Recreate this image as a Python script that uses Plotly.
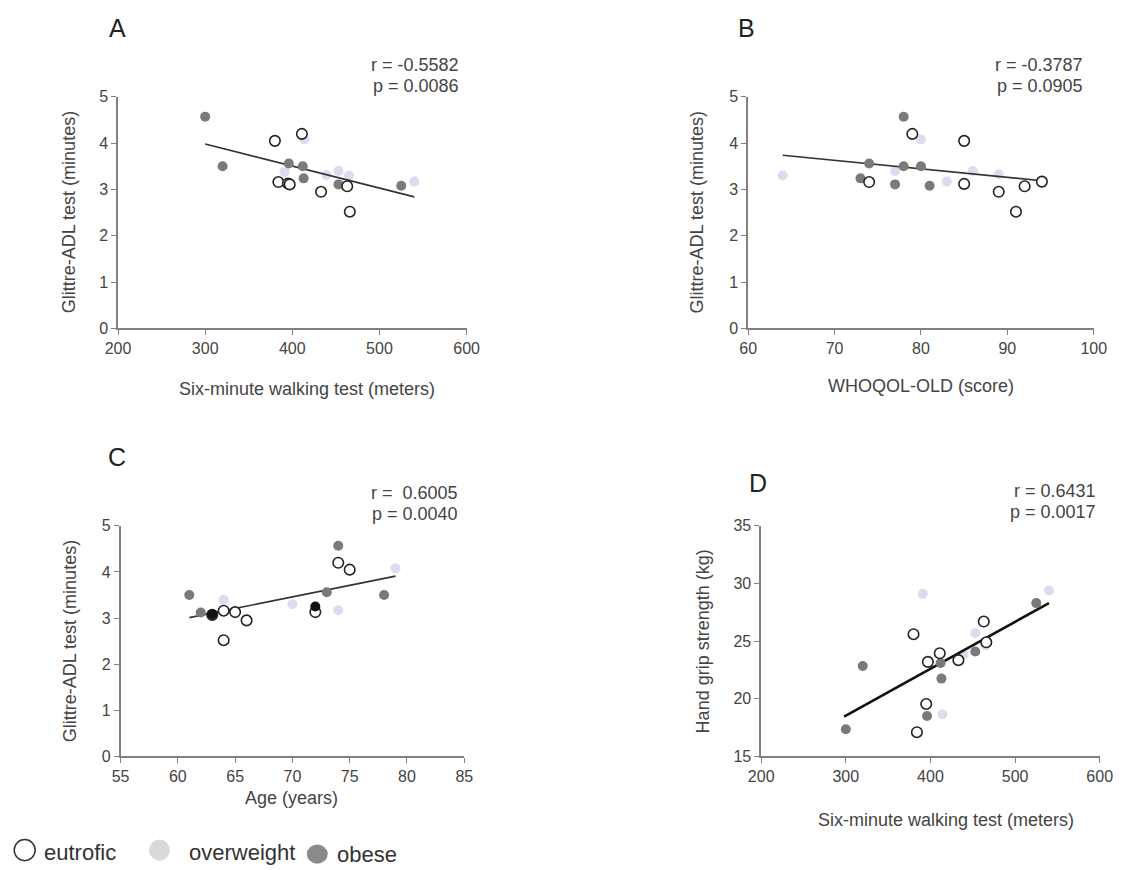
import plotly.graph_objects as go

# Layout positions below are given in reference-image pixels (1123 x 870).
# The page body keeps its default 8px margin; the returned photograph shows the
# page slightly reduced and offset, so positions are mapped through that.
BODY = 8
PHOTO_OFF_X = 11.0
PHOTO_OFF_Y = 8.5
PHOTO_SCALE = 0.978
W, H = 1123 - BODY, 870 - BODY

# ---------------- data ----------------
# Six-minute walking test (meters) - panels A and D
eut_6mwt = [380, 384, 395, 397, 411, 433, 463, 466]
ow_6mwt = [391, 414, 439, 453, 465, 540]
ob_6mwt = [300, 320, 396, 412, 413, 453, 525]

# Glittre-ADL test (minutes) vs 6MWT - panel A
eut_glittre_a = [4.05, 3.16, 3.13, 3.11, 4.20, 2.95, 3.07, 2.52]
ow_glittre_a = [3.38, 4.08, 3.31, 3.40, 3.30, 3.17]
ob_glittre_a = [4.57, 3.50, 3.56, 3.50, 3.24, 3.11, 3.08]

# Hand grip strength (kg) - panel D
eut_grip = [25.6, 17.1, 19.55, 23.2, 23.95, 23.35, 26.7, 24.9]
ow_grip = [29.1, 18.65, 23.8, 25.7, 24.65, 29.4]
ob_grip = [17.35, 22.85, 18.5, 23.1, 21.75, 24.1, 28.3]

# WHOQOL-OLD (score) - panel B
eut_whoqol = [74, 79, 85, 85, 89, 91, 92, 94]
eut_glittre_b = [3.16, 4.20, 4.05, 3.12, 2.95, 2.52, 3.07, 3.17]
ow_whoqol = [64, 77, 80, 83, 86, 89]
ow_glittre_b = [3.30, 3.40, 4.08, 3.17, 3.40, 3.33]
ob_whoqol = [73, 74, 77, 78, 78, 80, 81]
ob_glittre_b = [3.24, 3.56, 3.11, 4.57, 3.50, 3.50, 3.08]

# Age (years) - panel C
eut_age = [63, 64, 64, 65, 66, 72, 74, 75]
eut_glittre_c = [3.07, 3.16, 2.52, 3.13, 2.95, 3.13, 4.20, 4.05]
ow_age = [64, 70, 74, 79]
ow_glittre_c = [3.40, 3.30, 3.17, 4.08]
ob_age = [61, 62, 73, 74, 78]
ob_glittre_c = [3.50, 3.12, 3.56, 4.57, 3.50]
ob_dark_age = [63, 72]
ob_dark_glittre_c = [3.08, 3.25]

# regression lines (end points)
fit_a_x, fit_a_y = [300, 540], [3.98, 2.84]
fit_b_x, fit_b_y = [64, 94], [3.74, 3.19]
fit_c_x, fit_c_y = [61, 79], [3.01, 3.91]
fit_d_x, fit_d_y = [298, 540], [18.45, 28.3]

stats = {
    "A": ("r = -0.5582", "p = 0.0086"),
    "B": ("r = -0.3787", "p = 0.0905"),
    "C": ("r =  0.6005", "p = 0.0040"),
    "D": ("r = 0.6431", "p = 0.0017"),
}

group_names = ["eutrofic", "overweight", "obese"]

# ---------------- styles ----------------
FONT = "Liberation Sans, Arial, sans-serif"
C_OW = "#dcdcf0"
C_OB = "#7a7a7a"
AX = "#808080"
TXT = "#444444"


def page_x(x):
    return (x - PHOTO_OFF_X) / PHOTO_SCALE


def page_y(y):
    return (y - PHOTO_OFF_Y) / PHOTO_SCALE


def px(x):
    return (page_x(x) - BODY) / W


def py(y):
    return 1 - (page_y(y) - BODY) / H


fig = go.Figure()


def add_panel(n, eut, ow, ob, fit, line_color, line_w, extra=None):
    xa = "x" if n == 1 else f"x{n}"
    ya = "y" if n == 1 else f"y{n}"
    fig.add_trace(go.Scatter(x=ow[0], y=ow[1], mode="markers", xaxis=xa, yaxis=ya,
                             marker=dict(size=10, color=C_OW, line=dict(width=0)),
                             showlegend=False, hoverinfo="x+y"))
    fig.add_trace(go.Scatter(x=fit[0], y=fit[1], mode="lines", xaxis=xa, yaxis=ya,
                             line=dict(color=line_color, width=line_w),
                             showlegend=False, hoverinfo="skip"))
    fig.add_trace(go.Scatter(x=ob[0], y=ob[1], mode="markers", xaxis=xa, yaxis=ya,
                             marker=dict(size=10, color=C_OB, line=dict(width=0)),
                             showlegend=False, hoverinfo="x+y"))
    fig.add_trace(go.Scatter(x=eut[0], y=eut[1], mode="markers", xaxis=xa, yaxis=ya,
                             marker=dict(size=10.5, color="white",
                                         line=dict(width=1.6, color="#222222")),
                             showlegend=False, hoverinfo="x+y"))
    if extra is not None:
        fig.add_trace(go.Scatter(x=extra[0], y=extra[1], mode="markers", xaxis=xa, yaxis=ya,
                                 marker=dict(size=10, color="#111111", line=dict(width=0)),
                                 showlegend=False, hoverinfo="x+y"))


add_panel(1, (eut_6mwt, eut_glittre_a), (ow_6mwt, ow_glittre_a), (ob_6mwt, ob_glittre_a),
          (fit_a_x, fit_a_y), "#333333", 1.6)
add_panel(2, (eut_whoqol, eut_glittre_b), (ow_whoqol, ow_glittre_b), (ob_whoqol, ob_glittre_b),
          (fit_b_x, fit_b_y), "#333333", 1.6)
add_panel(3, (eut_age, eut_glittre_c), (ow_age, ow_glittre_c), (ob_age, ob_glittre_c),
          (fit_c_x, fit_c_y), "#333333", 1.6, extra=(ob_dark_age, ob_dark_glittre_c))
add_panel(4, (eut_6mwt, eut_grip), (ow_6mwt, ow_grip), (ob_6mwt, ob_grip),
          (fit_d_x, fit_d_y), "#111111", 2.6)


def axis(domain, rng, dtick, anchor):
    return dict(domain=domain, range=rng, dtick=dtick, tick0=rng[0], anchor=anchor,
                showline=True, linecolor=AX, linewidth=1.6, ticks="outside",
                ticklen=5, tickwidth=1.4, tickcolor=AX, showgrid=False, zeroline=False,
                tickfont=dict(family=FONT, size=16, color=TXT), fixedrange=True)


top_y = [py(328), py(97)]
bot_y = [py(755), py(525)]

fig.update_layout(
    width=W, height=H,
    margin=dict(l=0, r=0, t=0, b=0),
    paper_bgcolor="white", plot_bgcolor="white",
    showlegend=False,
    xaxis=axis([px(116), px(465)], [200, 600], 100, "y"),
    yaxis=axis(top_y, [0, 5], 1, "x"),
    xaxis2=axis([px(747), px(1093)], [60, 100], 10, "y2"),
    yaxis2=axis(top_y, [0, 5], 1, "x2"),
    xaxis3=axis([px(118.5), px(462.7)], [55, 85], 5, "y3"),
    yaxis3=axis(bot_y, [0, 5], 1, "x3"),
    xaxis4=axis([px(760), px(1099)], [200, 600], 100, "y4"),
    yaxis4=axis(bot_y, [15, 35], 5, "x4"),
)

ann = []


def text(x, y, s, size, color=TXT, xanchor="center", angle=0):
    ann.append(dict(x=px(x), y=py(y), xref="paper", yref="paper", text=s, showarrow=False,
                    xanchor=xanchor, yanchor="middle", textangle=angle,
                    font=dict(family=FONT, size=size, color=color)))


# panel letters
text(115, 28, "A", 25, "#222222")
text(745, 28, "B", 25, "#222222")
text(115, 456, "C", 25, "#222222")
text(757, 482, "D", 25, "#222222")

# statistics
text(459, 65, stats["A"][0], 18, xanchor="right")
text(459, 86, stats["A"][1], 18, xanchor="right")
text(1084, 65, stats["B"][0], 18, xanchor="right")
text(1084, 86, stats["B"][1], 18, xanchor="right")
text(458, 492, stats["C"][0], 18, xanchor="right")
text(458, 513, stats["C"][1], 18, xanchor="right")
text(1097, 490, stats["D"][0], 18, xanchor="right")
text(1097, 511, stats["D"][1], 18, xanchor="right")

# axis titles
text(305, 388, "Six-minute walking test (meters)", 18)
text(920, 385, "WHOQOL-OLD (score)", 18)
text(290, 797, "Age (years)", 18)
text(945, 818, "Six-minute walking test (meters)", 18)
text(67, 212, "Glittre-ADL test (minutes)", 18, angle=-90)
text(696, 212, "Glittre-ADL test (minutes)", 18, angle=-90)
text(68, 640, "Glittre-ADL test (minutes)", 18, angle=-90)
text(702, 640, "Hand grip strength (kg)", 18, angle=-90)

# legend
text(40, 851, group_names[0], 22, "#333333", xanchor="left")
text(185, 851, group_names[1], 22, "#333333", xanchor="left")
text(333, 853, group_names[2], 22, "#333333", xanchor="left")

fig.update_layout(annotations=ann)

shapes = [
    dict(type="circle", xref="paper", yref="paper", x0=px(12), x1=px(33), y0=py(859), y1=py(838),
         line=dict(color="#333333", width=1.5), fillcolor="white"),
    dict(type="circle", xref="paper", yref="paper", x0=px(147), x1=px(168), y0=py(859), y1=py(838),
         line=dict(width=0), fillcolor="#d9d9d9"),
    dict(type="circle", xref="paper", yref="paper", x0=px(305), x1=px(326), y0=py(862), y1=py(843),
         line=dict(width=0), fillcolor="#8a8a8a"),
]
fig.update_layout(shapes=shapes)

fig.write_html("out.html")
